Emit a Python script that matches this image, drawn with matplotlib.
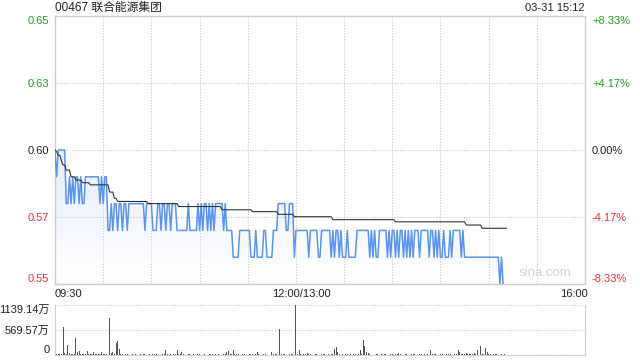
import numpy as np
import matplotlib.pyplot as plt
from matplotlib.patches import Polygon

plt.rcParams['font.family'] = ['Liberation Sans', 'Noto Sans CJK SC', 'DejaVu Sans']

# ---- data (one point per trading minute from 09:30) ----
title = '00467 联合能源集团'
stamp = '03-31 15:12'
prev_close = 0.60

# last price as (price, number of minutes) runs
price_runs = [
    (0.60, 1), (0.59, 1), (0.60, 5), (0.58, 2), (0.59, 1), (0.58, 1), (0.59, 1),
    (0.58, 1), (0.59, 2), (0.58, 1), (0.59, 1), (0.58, 2), (0.59, 9), (0.58, 1),
    (0.59, 1), (0.58, 1), (0.59, 2),
    (0.57, 2), (0.58, 1), (0.57, 1), (0.58, 2), (0.57, 1), (0.58, 2), (0.57, 1),
    (0.58, 2), (0.57, 1), (0.58, 10), (0.57, 1), (0.58, 4), (0.57, 3), (0.58, 2),
    (0.57, 1), (0.58, 2), (0.57, 1), (0.58, 2), (0.57, 1), (0.58, 3), (0.57, 7),
    (0.58, 1), (0.57, 5), (0.58, 1), (0.57, 1), (0.58, 1), (0.57, 1), (0.58, 2),
    (0.57, 1), (0.58, 1), (0.57, 1), (0.58, 1), (0.57, 1), (0.58, 5), (0.57, 1),
    (0.58, 1), (0.57, 4),
    (0.56, 4), (0.57, 7), (0.56, 3), (0.57, 1), (0.56, 4), (0.57, 2), (0.56, 4),
    (0.57, 3), (0.58, 5), (0.57, 2), (0.58, 3), (0.56, 1),
    (0.57, 8), (0.56, 1), (0.57, 5), (0.56, 2), (0.57, 6), (0.56, 1), (0.57, 1),
    (0.56, 1), (0.57, 2), (0.56, 1), (0.57, 1), (0.56, 3), (0.57, 1), (0.56, 5),
    (0.57, 8), (0.56, 1), (0.57, 1), (0.56, 1), (0.57, 1), (0.56, 2), (0.57, 5),
    (0.56, 1), (0.57, 1), (0.56, 1), (0.57, 2), (0.56, 1), (0.57, 1), (0.56, 1),
    (0.57, 2), (0.56, 1), (0.57, 1), (0.56, 1), (0.57, 1),
    (0.56, 1), (0.57, 1), (0.56, 1), (0.57, 3), (0.56, 1), (0.57, 5), (0.56, 1),
    (0.57, 2), (0.56, 1), (0.57, 1), (0.56, 1), (0.57, 1), (0.56, 2), (0.57, 1),
    (0.56, 3), (0.57, 1), (0.56, 1), (0.57, 5), (0.56, 1), (0.57, 1), (0.56, 22),
    (0.55, 1), (0.56, 1), (0.55, 1),
]

# average price as (price, number of minutes) runs
avg_runs = [
    (0.600, 1), (0.5994, 1), (0.598, 2), (0.596, 1), (0.5944, 2), (0.5925, 3),
    (0.590, 3), (0.5888, 4), (0.5878, 5), (0.587, 12), (0.5843, 3), (0.582, 2),
    (0.5808, 19), (0.580, 19), (0.5789, 27), (0.5777, 19), (0.577, 16),
    (0.576, 10), (0.5751, 24), (0.574, 39), (0.5732, 44), (0.572, 10), (0.5708, 16),
]

# volume per minute, in 万
volumes = [
    205, 30, 15, 20, 25, 645, 40, 20, 228, 35, 20, 25, 15, 395, 76, 99, 30, 20, 15, 25,
    91, 20, 15, 30, 76, 20, 15, 25, 18, 60, 20, 15, 25, 30, 850, 40, 76, 30, 281, 326,
    137, 20, 15, 10, 12, 15, 10, 8, 12, 10, 15, 10, 8, 12, 10, 15, 12, 10, 8, 12,
    10, 15, 12, 20, 10, 8, 15, 12, 20, 114, 15, 10, 12, 8, 20, 15, 114, 30, 15, 76,
    12, 10, 8, 15, 12, 10, 20, 8, 10, 12, 15, 10, 8, 12, 10, 8, 15, 12, 20, 76,
    12, 10, 15, 8, 10, 20, 12, 60, 91, 30, 25, 114, 20, 15, 12, 10, 8, 12, 15, 10,
    8, 12, 20, 15, 10, 30, 76, 15, 10, 8, 12, 20, 15, 10, 8, 76, 20, 15, 12, 10,
    592, 20, 15, 12, 10, 8, 15, 20, 12, 10, 1139.14, 30, 114, 15, 10, 20, 12, 40, 20, 15,
    10, 8, 12, 15, 10, 8, 12, 15, 20, 10, 12, 8, 15, 20, 137, 190, 60, 15, 10, 12,
    8, 15, 12, 10, 20, 8, 12, 15, 10, 20, 114, 25, 342, 205, 60, 40, 15, 10, 12, 8,
    15, 12, 10, 20, 8, 12, 15, 10, 8, 12, 15, 10, 20, 12, 40, 15, 10, 8, 12, 15,
    10, 8, 12, 20, 15, 10, 8, 12, 15, 10, 20, 12, 15, 10, 114, 20, 12, 15, 10, 8,
    12, 15, 10, 8, 12, 20, 15, 10, 8, 12, 30, 114, 60, 20, 15, 25, 40, 15, 30, 20,
    15, 40, 20, 114, 205, 205, 30, 20, 152, 60, 20, 15, 10, 12, 20, 15, 10, 8, 12, 10,
    15,
]

price_ticks = [0.55, 0.575, 0.60, 0.625, 0.65]
price_labels = ['0.55', '0.57', '0.60', '0.63', '0.65']
pct_labels = ['-8.33%', '-4.17%', '0.00%', '+4.17%', '+8.33%']
vol_ticks = [0, 569.57, 1139.14]
vol_labels = ['0', '569.57万', '1139.14万']
total_minutes = 330

# ---- expand runs ----
price = np.concatenate([np.full(n, p) for p, n in price_runs])
avg = np.concatenate([np.full(n, p) for p, n in avg_runs])
t_price = np.arange(len(price))
t_avg = np.arange(len(avg))
t_vol = np.arange(len(volumes))

GREEN = '#1f9e1f'
RED = '#ee3030'
GRID = '#c8c8c8'
EDGE = '#cfcfcf'
lab_colors = [RED, RED, '#222222', GREEN, GREEN]

fig = plt.figure(figsize=(6.4, 3.6), dpi=100)
W, H = 640, 360

ax = fig.add_axes([55 / W, 1 - 284 / H, 530 / W, 268 / H])
ax.set_xlim(0, total_minutes)
ax.set_ylim(0.55, 0.65)

# gradient fill under the price line
grad = np.linspace(1, 0, 256).reshape(-1, 1)
top_c = np.array([0.90, 0.935, 0.99])
img = np.ones((256, 1, 3)) * (1 - grad[..., None]) + top_c * grad[..., None]
im = ax.imshow(img, extent=[0, total_minutes, 0.55, 0.60], aspect='auto',
               origin='upper', zorder=1)
poly = Polygon(np.column_stack([np.r_[t_price, t_price[-1], 0],
                                np.r_[price, 0.55, 0.55]]),
               closed=True, facecolor='none', edgecolor='none')
ax.add_patch(poly)
im.set_clip_path(poly)

ax.plot(t_price, price, color='#5a94f0', lw=1.1, zorder=3)
ax.plot(t_avg, avg, color='#333333', lw=0.8, zorder=4)

ax.set_xticks(np.arange(0, total_minutes + 1, 30))
ax.set_xticklabels([])
ax.set_yticks(price_ticks)
ax.set_yticklabels(price_labels, fontsize=8)
ax.grid(True, linestyle=(0, (1, 1.5)), color=GRID, lw=0.8)
ax.tick_params(length=0, pad=4)
for lab, c in zip(ax.get_yticklabels(), lab_colors):
    lab.set_color(c)
ax.get_yticklabels()[0].set_va('bottom')
ax.get_yticklabels()[-1].set_va('top')
for s in ax.spines.values():
    s.set_color(EDGE)
    s.set_linewidth(1)

ax2 = ax.twinx()
ax2.set_ylim(0.55, 0.65)
ax2.set_yticks(price_ticks)
ax2.set_yticklabels(pct_labels, fontsize=8)
ax2.tick_params(length=0, pad=5)
for lab, c in zip(ax2.get_yticklabels(), lab_colors):
    lab.set_color(c)
ax2.get_yticklabels()[0].set_va('bottom')
ax2.get_yticklabels()[-1].set_va('top')
for s in ax2.spines.values():
    s.set_visible(False)

ax.text(0.975, 0.02, 'sina.com', transform=ax.transAxes, ha='right', va='bottom',
        color='#d2d2d2', fontsize=9.5, zorder=5)

fig.text(55 / W, 1 - 8 / H, title, ha='left', va='center', fontsize=8.5, color='#222222')
fig.text(585 / W, 1 - 8 / H, stamp, ha='right', va='center', fontsize=8, color='#222222')

fig.text(55 / W, 1 - 294 / H, '09:30', ha='left', va='center', fontsize=8, color='#222222')
fig.text(301 / W, 1 - 294 / H, '12:00/13:00', ha='center', va='center', fontsize=8, color='#222222')
fig.text(588 / W, 1 - 294 / H, '16:00', ha='right', va='center', fontsize=8, color='#222222')

# ---- volume panel ----
vax = fig.add_axes([55 / W, 5 / H, 530 / W, 50 / H])
vax.bar(t_vol, volumes, width=0.6, color='#555555', linewidth=0)
vax.set_xlim(0, total_minutes)
vax.set_ylim(0, 1139.14)
vax.set_xticks([])
vax.set_yticks(vol_ticks)
vax.set_yticklabels(vol_labels, fontsize=8, color='#222222')
vax.get_yticklabels()[0].set_va('bottom')
vax.get_yticklabels()[-1].set_va('top')
vax.tick_params(length=0, pad=4)
vax.yaxis.grid(True, linestyle=(0, (1, 1.5)), color=GRID, lw=0.8)
vax.set_axisbelow(True)
vax.spines['top'].set_visible(False)
for k in ['left', 'right', 'bottom']:
    vax.spines[k].set_color(EDGE)

fig.savefig('out.png', dpi=100)
